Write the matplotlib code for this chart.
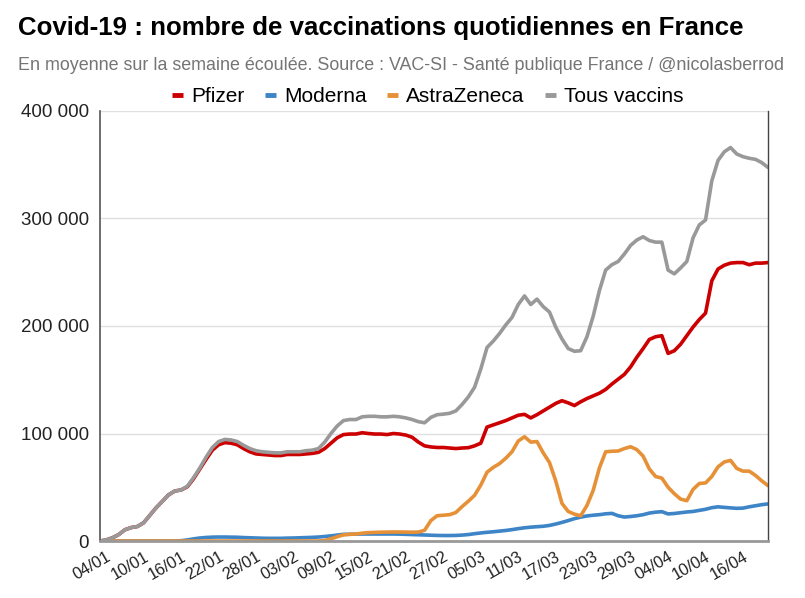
import matplotlib
matplotlib.use("Agg")
import matplotlib.pyplot as plt
import matplotlib.ticker as mticker
import pandas as pd

plt.rcParams["font.family"] = ["Liberation Sans", "DejaVu Sans"]

# daily values (7-day average, thousands), 03/01/2021 -> 20/04/2021
start_date = "2021-01-03"

pfizer = [
    0, 1, 3, 6, 10.5, 12.5, 13.5, 17, 24, 31,
    37, 43, 46.5, 47.5, 50.5, 58, 67, 76, 84.5, 89.5,
    91.5, 91, 89.5, 86, 83, 81, 80.5, 80, 79.5, 79.5,
    80.5, 80.5, 80.5, 81, 81.5, 82.5, 86, 91, 96, 99,
    99.5, 99.5, 100.7, 100, 99.5, 99.5, 99, 100, 99.5, 98.5,
    96.5, 92, 88.5, 87.5, 87, 87, 86.5, 86, 86.5, 86.8,
    88.5, 91, 106, 108, 110, 112, 114.5, 117, 117.8, 114.5,
    117.5, 121, 124.5, 128, 130.5, 128.5, 126, 129.5, 132.5, 135,
    137.5, 141, 146, 150.5, 155, 162, 171, 179, 187.5, 190,
    191, 174.5, 177, 183, 191, 199, 206, 212, 242, 253,
    256.5, 258.5, 259, 259, 257, 258.5, 258.5, 259,
]

moderna = [
    0, 0, 0, 0, 0, 0, 0, 0, 0, 0,
    0, 0, 0, 0.3, 1, 2, 2.8, 3.3, 3.6, 3.7,
    3.7, 3.6, 3.5, 3.2, 3, 2.8, 2.6, 2.5, 2.5, 2.5,
    2.7, 2.8, 3, 3.2, 3.4, 3.7, 4.2, 4.8, 5.5, 6.2,
    6.3, 6.4, 6.5, 6.5, 6.5, 6.5, 6.5, 6.5, 6.4, 6.2,
    6, 5.8, 5.6, 5.4, 5.2, 5.1, 5.1, 5.2, 5.5, 6,
    6.8, 7.5, 8.1, 8.6, 9.2, 9.8, 10.6, 11.5, 12.3, 12.9,
    13.3, 13.7, 14.5, 15.8, 17.3, 19, 20.8, 22.2, 23.3, 24,
    24.5, 25.3, 25.7, 23.5, 22.3, 22.8, 23.5, 24.5, 26, 26.8,
    27.3, 25.2, 25.6, 26.3, 27, 27.5, 28.5, 29.5, 31, 31.8,
    31.3, 30.8, 30.4, 30.6, 31.8, 32.8, 33.8, 34.5,
]

astrazeneca = [
    0, 0, 0, 0, 0, 0, 0, 0, 0, 0,
    0, 0, 0, 0, 0, 0, 0, 0, 0, 0,
    0, 0, 0, 0, 0, 0, 0, 0, 0, 0,
    0, 0, 0, 0, 0, 0, 0.5, 2, 4, 5.7,
    6.2, 6.5, 7.3, 7.8, 8, 8.2, 8.3, 8.4, 8.4, 8.3,
    8.2, 8.3, 10, 19, 23.5, 24, 24.5, 26.5, 32, 37,
    42.5, 52, 64, 68.5, 72, 77, 83, 93, 97, 92,
    92.5, 82, 73, 56, 35, 27.5, 25, 23.5, 33, 47,
    68, 83, 83.5, 83.7, 86, 87.7, 85, 79, 67, 60,
    58.5, 50, 44, 39, 37.5, 48, 53.5, 54, 60, 69,
    73.5, 75, 67.5, 65, 65, 61, 56, 51.5,
]

tous = [
    0, 1, 3, 6, 10.5, 12.5, 13.5, 17, 24, 31,
    37, 43, 46.5, 47.5, 51, 59, 68, 78, 87, 92.5,
    94.5, 94, 92.5, 89, 86, 84, 83, 82.5, 82, 82,
    83, 83, 83, 84, 84.5, 86, 92, 100, 107, 112,
    113, 113, 115.5, 116, 116, 115.5, 115.5, 116, 115.5, 114.5,
    113, 111, 110, 115, 117.5, 118, 118.8, 121, 127, 134,
    143, 160, 180, 186, 193, 201, 208, 220, 228, 220,
    225, 218, 213, 199, 188, 179, 176.5, 177, 190, 209,
    233, 252, 257, 260, 267, 275, 280, 283, 279.5, 278,
    278, 252, 248.5, 254, 260, 282, 294, 298.6, 335, 354,
    362, 366, 360, 357.5, 356, 355, 352, 347.5,
]

series_names = ["Pfizer", "Moderna", "AstraZeneca", "Tous vaccins"]
series_colors = ["#cc0000", "#3d85c6", "#e69138", "#999999"]

dates = pd.date_range(start_date, periods=len(tous), freq="D")
tick_dates = dates[1::6]
tick_labels = [d.strftime("%d/%m") for d in tick_dates]


def fmt_thousands(v, _pos):
    return f"{int(round(v)):,}".replace(",", " ")


fig = plt.figure(figsize=(8.05, 5.98), dpi=100)
ax = fig.add_axes([0.1242, 0.0953, 0.8298, 0.7191])

for name, vals, color in zip(series_names, [pfizer, moderna, astrazeneca, tous], series_colors):
    ax.plot(dates, [v * 1000 for v in vals], color=color, lw=2.6, label=name,
            solid_joinstyle="round", solid_capstyle="round")

ax.set_xlim(dates[0], dates[-1])
ax.set_ylim(0, 400000)
ax.set_yticks([0, 100000, 200000, 300000, 400000])
ax.yaxis.set_major_formatter(mticker.FuncFormatter(fmt_thousands))
ax.set_xticks(tick_dates)
ax.set_xticklabels(tick_labels, rotation=30, ha="right", rotation_mode="anchor")
ax.tick_params(axis="both", length=0, colors="#222222")
ax.tick_params(axis="x", pad=6, labelsize=11.8)
ax.tick_params(axis="y", pad=8, labelsize=13.5)
ax.grid(axis="y", color="#e0e0e0", lw=1)
ax.set_axisbelow(True)

ax.spines["top"].set_visible(False)
ax.spines["left"].set_color("#555555")
ax.spines["left"].set_linewidth(1.2)
ax.spines["right"].set_color("#444444")
ax.spines["right"].set_linewidth(1)
ax.spines["bottom"].set_color("#999999")
ax.spines["bottom"].set_linewidth(2)

fig.text(18 / 805, 1 - 28 / 598, "Covid-19 : nombre de vaccinations quotidiennes en France",
         fontsize=18.6, fontweight="bold", va="center", ha="left", color="#000000")
fig.text(18 / 805, 1 - 66 / 598,
         "En moyenne sur la semaine écoulée. Source : VAC-SI - Santé publique France / @nicolasberrod",
         fontsize=12.9, va="center", ha="left", color="#757575")

leg = fig.legend(loc="center", bbox_to_anchor=(428 / 805, 1 - 97 / 598), ncol=4, frameon=False,
                 fontsize=15, handlelength=0.5, handletextpad=0.4, columnspacing=1.0)
for h in leg.get_lines():
    h.set_linewidth(3.5)
    h.set_solid_capstyle("butt")

fig.savefig("out.png", dpi=100)
